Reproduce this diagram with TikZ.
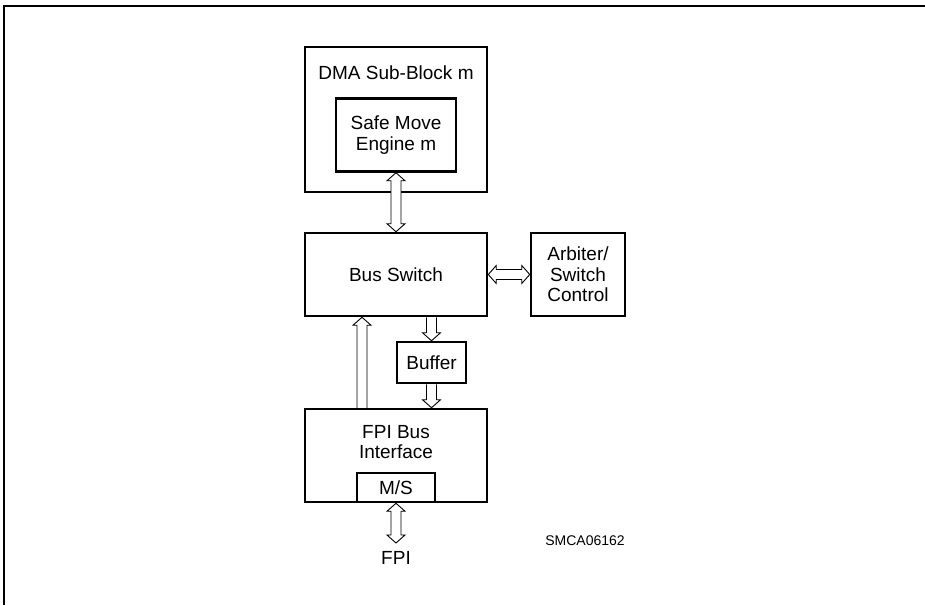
\documentclass[tikz,border=0pt]{standalone}
\usepackage{fontspec}
\setmainfont{Liberation Sans}
\usetikzlibrary{calc}
\tikzset{
  blk/.style={draw, line width=2.5pt, inner sep=0pt, align=center, font=\fontsize{19}{20.5}\selectfont},
  txt/.style={inner sep=0pt, align=center, font=\fontsize{19}{20.5}\selectfont},
  hollow/.style={draw, fill=white, line width=0.9pt, line join=miter},
}
\newcommand{\arrDown}[2]{\path[hollow] let \p1=(#1), \p2=(#2) in
  (\x1-5pt,\y1) -- (\x1-5pt,\y2+8pt) -- (\x1-9pt,\y2+8pt) -- (\x1,\y2) -- (\x1+9pt,\y2+8pt) -- (\x1+5pt,\y2+8pt) -- (\x1+5pt,\y1);}
\newcommand{\arrUp}[2]{\path[hollow] let \p1=(#1), \p2=(#2) in
  (\x1-5pt,\y1) -- (\x1-5pt,\y2-8pt) -- (\x1-9pt,\y2-8pt) -- (\x1,\y2) -- (\x1+9pt,\y2-8pt) -- (\x1+5pt,\y2-8pt) -- (\x1+5pt,\y1);}
\newcommand{\arrDblV}[2]{\path[hollow] let \p1=(#1), \p2=(#2) in
  (\x1,\y1) -- (\x1+9pt,\y1-8pt) -- (\x1+5pt,\y1-8pt) -- (\x1+5pt,\y2+8pt) -- (\x1+9pt,\y2+8pt) -- (\x1,\y2)
  -- (\x1-9pt,\y2+8pt) -- (\x1-5pt,\y2+8pt) -- (\x1-5pt,\y1-8pt) -- (\x1-9pt,\y1-8pt) -- cycle;}
\newcommand{\arrDblH}[2]{\path[hollow] let \p1=(#1), \p2=(#2) in
  (\x1,\y1) -- (\x1+8pt,\y1+9pt) -- (\x1+8pt,\y1+5pt) -- (\x2-8pt,\y1+5pt) -- (\x2-8pt,\y1+9pt) -- (\x2,\y1)
  -- (\x2-8pt,\y1-9pt) -- (\x2-8pt,\y1-5pt) -- (\x1+8pt,\y1-5pt) -- (\x1+8pt,\y1-9pt) -- cycle;}
\begin{document}
\begin{tikzpicture}[x=1pt, y=-1pt]
\useasboundingbox (0,0) rectangle (925,605);
\draw[line width=2pt] (4,605) -- (4,6) -- (925,6);

% DMA sub-block
\node[blk, minimum width=182pt, minimum height=145pt] (dma) at (396,119.5) {};
\node[txt] (dmatitle) at (396,73) {DMA Sub-Block m};
\node[blk, minimum width=120pt, minimum height=73pt] (sme) at (396,135) {Safe Move\\Engine m};

% Bus switch and arbiter
\node[blk, minimum width=182pt, minimum height=83pt] (bus) at (396,274.5) {Bus Switch};
\node[blk, minimum width=94pt, minimum height=83pt] (arb) at (578,274.5) {Arbiter/\\Switch\\Control};

% Buffer
\node[blk, minimum width=69pt, minimum height=41pt] (buf) at (431.5,362.5) {Buffer};

% FPI bus interface
\node[blk, minimum width=182pt, minimum height=93pt] (fpi) at (396,455.5) {};
\node[txt] (fpitext) at (396,442) {FPI Bus\\Interface};
\node[blk, minimum width=78pt, minimum height=29pt] (ms) at (396,487.5) {M/S};

\node[txt] (fpilabel) at (396,558) {FPI};
\coordinate (fpiend) at (396,543);
\node[inner sep=0pt, font=\fontsize{14}{16}\selectfont] (code) at (585,541) {SMCA06162};

% connectors
\arrDblV{sme.south}{bus.north}
\arrDblH{bus.east}{arb.west}
\arrDown{bus.south -| buf.north}{buf.north}
\arrDown{buf.south}{buf.south |- fpi.north}
\arrUp{$(fpi.north)+(-34,0)$}{$(bus.south)+(-34,0)$}
\arrDblV{ms.south}{fpiend}
\end{tikzpicture}
\end{document}
